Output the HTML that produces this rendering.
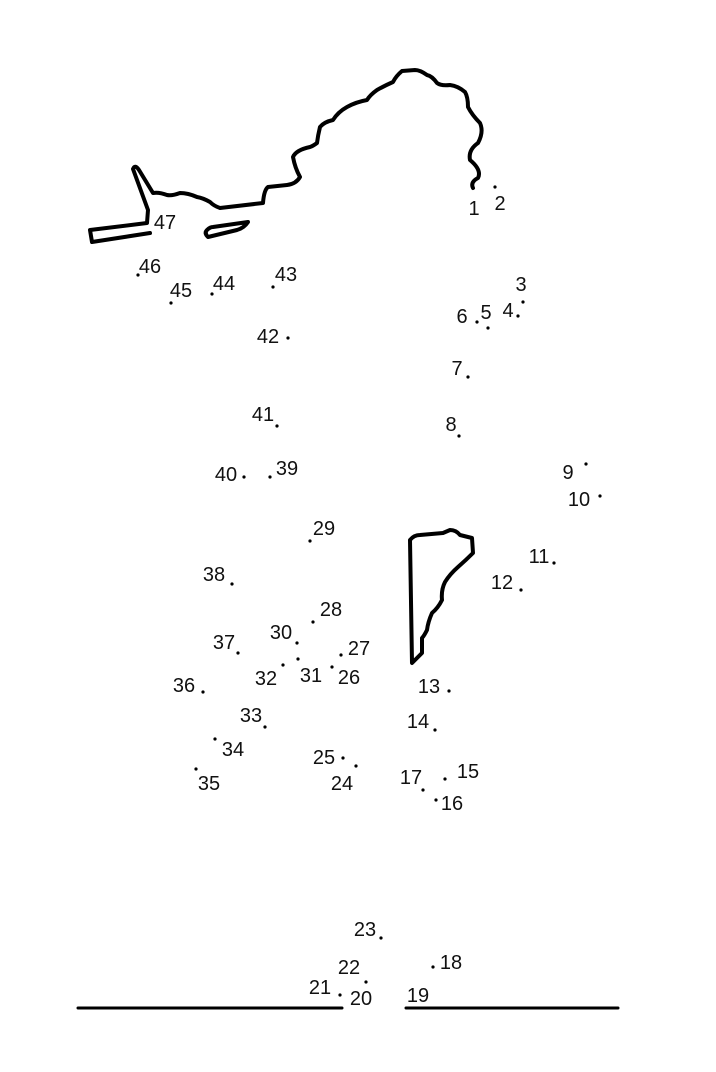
<!DOCTYPE html>
<html><head><style>html,body{margin:0;padding:0;background:#fff}svg{display:block}text{font-family:"Liberation Sans",sans-serif;font-size:20px;fill:#111}</style></head><body>
<svg width="716" height="1072" viewBox="0 0 716 1072" xmlns="http://www.w3.org/2000/svg">
<g fill="none" stroke="#000" stroke-width="4" stroke-linejoin="round" stroke-linecap="round">
<path d="M473,188 Q470,182 478,178 Q482,170 470,160 Q468,150 478,143 Q484,132 480,123 Q472,115 468,107 Q468,97 465,92 Q458,86 450,85 Q441,86 437,83 Q432,76 427,75 Q420,70 415,70 L402,71 Q396,76 393,82 Q384,86 377,90 Q370,95 367,100 Q356,102 347,107 Q338,112 333,120 Q324,122 320,127 Q318,135 317,143 Q313,146 310,147 Q296,150 293,157 Q295,168 300,177 Q296,184 287,185 L268,187 Q264,190 263,203 L220,208 Q214,206 210,202 Q203,198 197,197 Q188,193 180,193 Q172,196 167,195 Q159,192 153,193 L139,170 Q135,164 133,169 L148,210 L147,223 L90,230 L92,242 L150,233"/>
<path d="M207,230 Q210,227 213,227 L248,222 Q244,228 237,230 L208,237 Q204,233 207,230 Z"/>
<path d="M412,663 L410,540 Q414,535 420,535 L443,533 L450,530 Q456,530 460,535 L472,538 L473,553 Q466,560 458,567 Q450,574 445,582 Q441,590 442,600 Q438,608 432,613 Q428,622 427,630 Q424,636 422,638 L422,653 Z"/>
<path d="M78,1008 L342,1008 M406,1008 L618,1008" stroke-width="3"/>
</g>
<g fill="#000">
<circle cx="495" cy="187" r="1.6"/><circle cx="523" cy="302" r="1.6"/><circle cx="518" cy="316" r="1.6"/><circle cx="488" cy="328" r="1.6"/><circle cx="477" cy="322" r="1.6"/><circle cx="468" cy="377" r="1.6"/><circle cx="459" cy="436" r="1.6"/><circle cx="586" cy="464" r="1.6"/><circle cx="600" cy="496" r="1.6"/><circle cx="554" cy="563" r="1.6"/><circle cx="521" cy="590" r="1.6"/><circle cx="449" cy="691" r="1.6"/><circle cx="435" cy="730" r="1.6"/><circle cx="445" cy="779" r="1.6"/><circle cx="436" cy="800" r="1.6"/><circle cx="423" cy="790" r="1.6"/><circle cx="433" cy="967" r="1.6"/><circle cx="340" cy="995" r="1.6"/><circle cx="366" cy="982" r="1.6"/><circle cx="381" cy="938" r="1.6"/><circle cx="356" cy="766" r="1.6"/><circle cx="343" cy="758" r="1.6"/><circle cx="332" cy="667" r="1.6"/><circle cx="341" cy="655" r="1.6"/><circle cx="313" cy="622" r="1.6"/><circle cx="310" cy="541" r="1.6"/><circle cx="297" cy="643" r="1.6"/><circle cx="298" cy="659" r="1.6"/><circle cx="283" cy="665" r="1.6"/><circle cx="265" cy="727" r="1.6"/><circle cx="215" cy="739" r="1.6"/><circle cx="196" cy="769" r="1.6"/><circle cx="203" cy="692" r="1.6"/><circle cx="238" cy="653" r="1.6"/><circle cx="232" cy="584" r="1.6"/><circle cx="270" cy="477" r="1.6"/><circle cx="244" cy="477" r="1.6"/><circle cx="277" cy="426" r="1.6"/><circle cx="288" cy="338" r="1.6"/><circle cx="273" cy="287" r="1.6"/><circle cx="212" cy="294" r="1.6"/><circle cx="171" cy="303" r="1.6"/><circle cx="138" cy="275" r="1.6"/>
</g>
<g text-anchor="middle">
<text x="474" y="215">1</text><text x="500" y="210">2</text><text x="521" y="291">3</text><text x="508" y="317">4</text><text x="486" y="319">5</text><text x="462" y="323">6</text><text x="457" y="375">7</text><text x="451" y="431">8</text><text x="568" y="479">9</text><text x="579" y="506">10</text><text x="539" y="563">11</text><text x="502" y="589">12</text><text x="429" y="693">13</text><text x="418" y="728">14</text><text x="468" y="778">15</text><text x="452" y="810">16</text><text x="411" y="784">17</text><text x="451" y="969">18</text><text x="418" y="1002">19</text><text x="361" y="1005">20</text><text x="320" y="994">21</text><text x="349" y="974">22</text><text x="365" y="936">23</text><text x="342" y="790">24</text><text x="324" y="764">25</text><text x="349" y="684">26</text><text x="359" y="655">27</text><text x="331" y="616">28</text><text x="324" y="535">29</text><text x="281" y="639">30</text><text x="311" y="682">31</text><text x="266" y="685">32</text><text x="251" y="722">33</text><text x="233" y="756">34</text><text x="209" y="790">35</text><text x="184" y="692">36</text><text x="224" y="649">37</text><text x="214" y="581">38</text><text x="287" y="475">39</text><text x="226" y="481">40</text><text x="263" y="421">41</text><text x="268" y="343">42</text><text x="286" y="281">43</text><text x="224" y="290">44</text><text x="181" y="297">45</text><text x="150" y="273">46</text><text x="165" y="229">47</text>
</g>
</svg>
</body></html>
